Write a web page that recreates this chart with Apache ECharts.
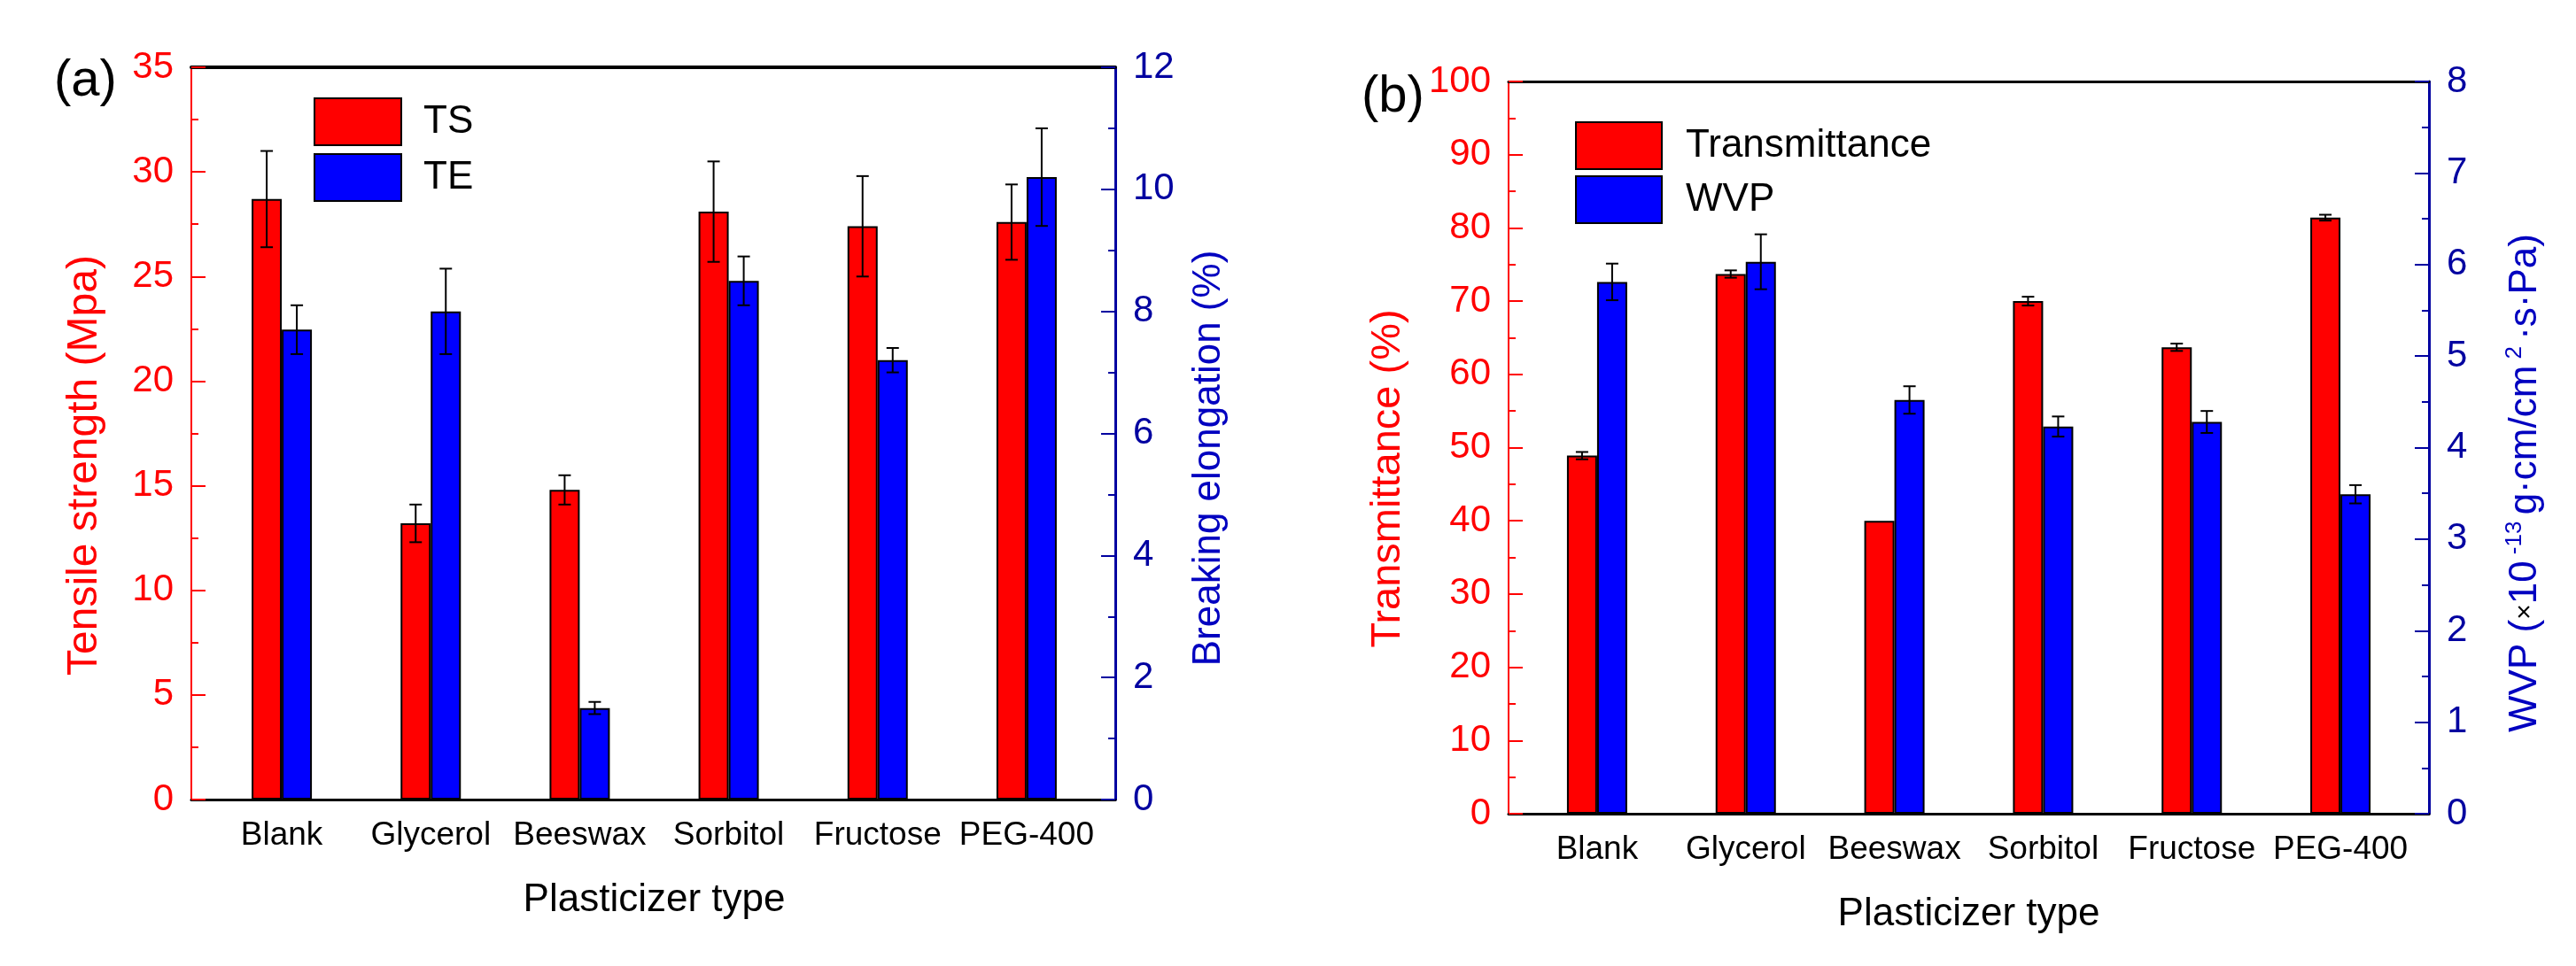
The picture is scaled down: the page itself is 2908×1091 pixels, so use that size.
<!DOCTYPE html>
<html lang="en">

<head>
    <meta charset="UTF-8">
    <title>Plasticizer type - TS/TE and Transmittance/WVP</title>
    <style>
        html, body {
            margin: 0;
            padding: 0;
            background: #fff;
        }

        #main {
            width: 2908px;
            height: 1091px;
        }
    </style>
    <script src="https://cdn.jsdelivr.net/npm/echarts@6/dist/echarts.min.js"></script>
</head>

<body>
    <div id="main"></div>

    <script type="text/javascript">
        // 数据
        var categories = ['Blank', 'Glycerol', 'Beeswax', 'Sorbitol', 'Fructose', 'PEG-400'];
        // (a) 拉伸强度 / 断裂伸长率
        var tsValues = [28.7, 13.2, 14.8, 28.1, 27.4, 27.6];
        var tsErrors = [2.3, 0.9, 0.7, 2.4, 2.4, 1.8];
        var teValues = [7.7, 8.0, 1.5, 8.5, 7.2, 10.2];
        var teErrors = [0.4, 0.7, 0.1, 0.4, 0.2, 0.8];
        // (b) 透光率 / 水蒸气透过系数
        var transValues = [48.9, 73.7, 40.0, 70.0, 63.7, 81.4];
        var transErrors = [0.5, 0.5, 0, 0.6, 0.5, 0.4];
        var wvpValues = [5.81, 6.03, 4.52, 4.23, 4.28, 3.49];
        var wvpErrors = [0.2, 0.3, 0.15, 0.11, 0.12, 0.1];

        var FONT = 'Liberation Sans, Arial, sans-serif';
        var RED = '#ff0000';
        var BLUE = '#0000ff';
        var NAVY = '#0000a0';
        var TITLE_BLUE = '#0000c0';
        var BAR_W = 34;

        // 误差棒数据 [类别序号, 值, 误差]
        function errData(values, errors) {
            return values.map(function (v, i) {
                return [i, v, errors[i]];
            });
        }

        // 误差棒绘制
        function errRender(offset) {
            return function (params, api) {
                var i = api.value(0);
                var v = api.value(1);
                var e = api.value(2);
                if (!e) {
                    return;
                }
                var top = api.coord([i, v + e]);
                var bot = api.coord([i, v - e]);
                var x = top[0] + offset;
                var cap = 7;
                var style = { stroke: '#000', lineWidth: 2 };
                return {
                    type: 'group',
                    children: [
                        { type: 'line', shape: { x1: x, y1: top[1], x2: x, y2: bot[1] }, style: style },
                        { type: 'line', shape: { x1: x - cap, y1: top[1], x2: x + cap, y2: top[1] }, style: style },
                        { type: 'line', shape: { x1: x - cap, y1: bot[1], x2: x + cap, y2: bot[1] }, style: style }
                    ]
                };
            };
        }

        // 外框横轴（只画线）
        function frameX(gridIndex, position, width) {
            return {
                type: 'value',
                gridIndex: gridIndex,
                position: position,
                min: 0,
                max: 1,
                axisLine: { show: true, onZero: false, lineStyle: { color: '#000', width: width } },
                axisTick: { show: false },
                axisLabel: { show: false },
                splitLine: { show: false }
            };
        }

        // 不显示的横轴
        function hiddenX(gridIndex) {
            return { type: 'value', gridIndex: gridIndex, min: 0, max: 1, show: false };
        }

        // 类别轴
        function catX(gridIndex) {
            return {
                type: 'category',
                gridIndex: gridIndex,
                data: categories,
                axisLine: { show: false, onZero: false },
                axisTick: { show: false },
                axisLabel: { interval: 0, fontFamily: FONT, fontSize: 37, color: '#000', margin: 22 },
                name: 'Plasticizer type',
                nameLocation: 'middle',
                nameGap: 92,
                nameTextStyle: { fontFamily: FONT, fontSize: 44, color: '#000' }
            };
        }

        // 可见的纵轴（主刻度）
        function valueY(gridIndex, position, max, interval, color, lineWidth, name, nameGap, nameStyle) {
            return {
                type: 'value',
                gridIndex: gridIndex,
                position: position,
                min: 0,
                max: max,
                interval: interval,
                axisLine: { show: true, onZero: false, lineStyle: { color: color, width: lineWidth } },
                axisTick: { show: true, inside: true, length: 16, lineStyle: { color: color, width: 2 } },
                axisLabel: { fontFamily: FONT, fontSize: 42, color: color, margin: 20 },
                splitLine: { show: false },
                name: name,
                nameLocation: 'middle',
                nameRotate: 90,
                nameGap: nameGap,
                nameTextStyle: nameStyle
            };
        }

        // 次刻度纵轴（只画短刻度）
        function minorY(gridIndex, position, max, interval, color) {
            return {
                type: 'value',
                gridIndex: gridIndex,
                position: position,
                min: 0,
                max: max,
                interval: interval,
                axisLine: { show: false, onZero: false },
                axisTick: { show: true, inside: true, length: 8, lineStyle: { color: color, width: 2 } },
                axisLabel: { show: false },
                splitLine: { show: false }
            };
        }

        // 隐藏的纵轴（内层网格用，刻度与外框一致）
        function hiddenY(gridIndex, position, max) {
            return {
                type: 'value', gridIndex: gridIndex, position: position, min: 0, max: max, show: false,
                axisLine: { onZero: false }
            };
        }

        var option = {
            animation: false,
            backgroundColor: '#fff',
            title: [
                { text: '(a)', left: 56, top: 58, textStyle: { fontFamily: FONT, fontSize: 58, fontWeight: 'normal', color: '#000' } },
                { text: '(b)', left: 1532, top: 76, textStyle: { fontFamily: FONT, fontSize: 58, fontWeight: 'normal', color: '#000' } }
            ],
            legend: [
                {
                    data: ['TS', 'TE'],
                    orient: 'vertical',
                    left: 349,
                    top: 105,
                    itemWidth: 98,
                    itemHeight: 53,
                    itemGap: 8,
                    icon: 'rect',
                    itemStyle: { borderColor: '#000', borderWidth: 2 },
                    textStyle: { fontFamily: FONT, fontSize: 44, color: '#000', padding: [0, 0, 0, 20] }
                },
                {
                    data: ['Transmittance', 'WVP'],
                    orient: 'vertical',
                    left: 1773,
                    top: 132,
                    itemWidth: 97,
                    itemHeight: 53,
                    itemGap: 6,
                    icon: 'rect',
                    itemStyle: { borderColor: '#000', borderWidth: 2 },
                    textStyle: { fontFamily: FONT, fontSize: 44, color: '#000', padding: [0, 0, 0, 22] }
                }
            ],
            grid: [
                { left: 216, width: 1043, top: 76, height: 827 },
                { left: 234, width: 1009, top: 76, height: 827 },
                { left: 216, width: 1043, top: 76, height: 827 },
                { left: 1703, width: 1039, top: 92, height: 827 },
                { left: 1719, width: 1007, top: 92, height: 827 },
                { left: 1703, width: 1039, top: 92, height: 827 }
            ],
            xAxis: [
                frameX(0, 'bottom', 3),
                frameX(0, 'top', 4),
                catX(1),
                hiddenX(2),
                frameX(3, 'bottom', 3),
                frameX(3, 'top', 3),
                catX(4),
                hiddenX(5)
            ],
            yAxis: [
                valueY(0, 'left', 35, 5, RED, 2, 'Tensile strength (Mpa)', 96,
                    { fontFamily: FONT, fontSize: 48, color: RED, padding: [0, 72, 0, 0] }),
                valueY(0, 'right', 12, 2, NAVY, 3, 'Breaking elongation (%)', 84,
                    { fontFamily: FONT, fontSize: 44, color: TITLE_BLUE, padding: [0, 56, 0, 0] }),
                hiddenY(1, 'left', 35),
                hiddenY(1, 'right', 12),
                minorY(2, 'left', 35, 2.5, RED),
                minorY(2, 'right', 12, 1, NAVY),
                valueY(3, 'left', 100, 10, RED, 2, 'Transmittance (%)', 112,
                    { fontFamily: FONT, fontSize: 47, color: RED, padding: [0, 70, 0, 0] }),
                valueY(3, 'right', 8, 1, NAVY, 3,
                    '{a|WVP (}{x|×}{a|10}{sup| -13 }{a|g·cm/cm}{sup| 2 }{a|·s·Pa)}', 84,
                    {
                        fontFamily: FONT, color: TITLE_BLUE, padding: [0, 80, 0, 0],
                        rich: {
                            a: { fontFamily: FONT, fontSize: 44, color: TITLE_BLUE, lineHeight: 50 },
                            x: { fontFamily: FONT, fontSize: 30, color: '#000', lineHeight: 50 },
                            sup: { fontFamily: FONT, fontSize: 26, color: TITLE_BLUE, verticalAlign: 'top', lineHeight: 50 }
                        }
                    }),
                hiddenY(4, 'left', 100),
                hiddenY(4, 'right', 8),
                minorY(5, 'left', 100, 5, RED),
                minorY(5, 'right', 8, 0.5, NAVY)
            ],
            series: [
                {
                    name: 'TS', type: 'bar', xAxisIndex: 2, yAxisIndex: 2, data: tsValues,
                    barWidth: BAR_W, barGap: '0%',
                    itemStyle: { color: RED, borderColor: '#000', borderWidth: 2 }
                },
                {
                    name: 'TE', type: 'bar', xAxisIndex: 2, yAxisIndex: 3, data: teValues,
                    barWidth: BAR_W, barGap: '0%',
                    itemStyle: { color: BLUE, borderColor: '#000', borderWidth: 2 }
                },
                {
                    type: 'custom', xAxisIndex: 2, yAxisIndex: 2, z: 5,
                    data: errData(tsValues, tsErrors), renderItem: errRender(-BAR_W / 2)
                },
                {
                    type: 'custom', xAxisIndex: 2, yAxisIndex: 3, z: 5,
                    data: errData(teValues, teErrors), renderItem: errRender(BAR_W / 2)
                },
                {
                    name: 'Transmittance', type: 'bar', xAxisIndex: 6, yAxisIndex: 8, data: transValues,
                    barWidth: BAR_W, barGap: '0%',
                    itemStyle: { color: RED, borderColor: '#000', borderWidth: 2 }
                },
                {
                    name: 'WVP', type: 'bar', xAxisIndex: 6, yAxisIndex: 9, data: wvpValues,
                    barWidth: BAR_W, barGap: '0%',
                    itemStyle: { color: BLUE, borderColor: '#000', borderWidth: 2 }
                },
                {
                    type: 'custom', xAxisIndex: 6, yAxisIndex: 8, z: 5,
                    data: errData(transValues, transErrors), renderItem: errRender(-BAR_W / 2)
                },
                {
                    type: 'custom', xAxisIndex: 6, yAxisIndex: 9, z: 5,
                    data: errData(wvpValues, wvpErrors), renderItem: errRender(BAR_W / 2)
                }
            ]
        };

        var myChart = echarts.init(document.getElementById('main'));
        myChart.setOption(option);
    </script>
</body>

</html>
